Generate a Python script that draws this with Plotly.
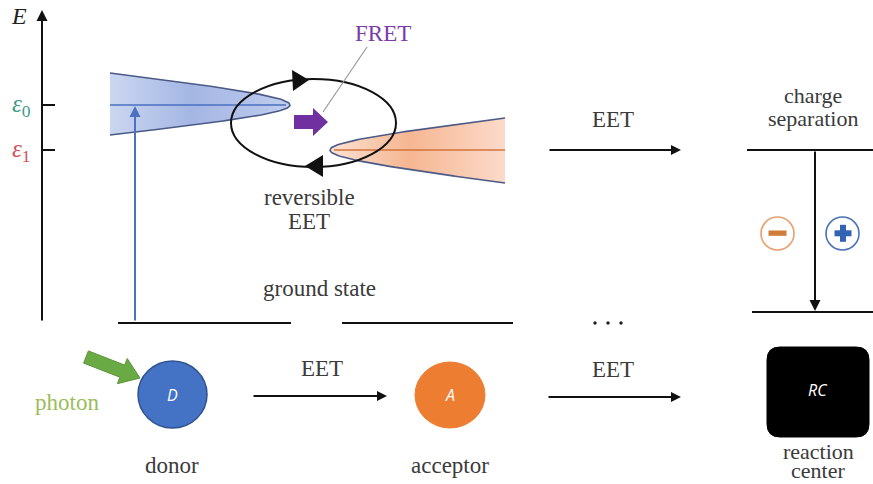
import numpy as np
import plotly.graph_objects as go

# ---------------- data (diagram units = pixel-like coordinates) ----------------
level_names = ["ε0", "ε1"]
level_colors = ["#3f9a86", "#d0505a"]
level_y = [105, 150]          # excited-state energies on the E axis
ground_y = 323                # ground-state level
rc_levels = [150, 312]        # charge separation: upper / lower level

stage_labels = ["donor", "acceptor", "reaction<br>center"]
stage_x = [172, 450, 818]
transfer_labels = ["EET", "EET", "EET"]

SERIF = "Liberation Serif, DejaVu Serif, serif"
TXT = "#3a3a3a"
FS = 23

fig = go.Figure()

# ---------------- broadened excited-state "cones" ----------------
def cone(tip_x, yc, h_top, h_bot, length, direction, b=15.0, n=120):
    dy = np.linspace(-h_top, h_bot, n)
    a_top = length / (np.sqrt(1 + (h_top / b) ** 2) - 1)
    a_bot = length / (np.sqrt(1 + (h_bot / b) ** 2) - 1)
    a = np.where(dy < 0, a_top, a_bot)
    f = a * (np.sqrt(1 + (dy / b) ** 2) - 1)
    return tip_x - direction * f, yc + dy

bx, by = cone(290, level_y[0], 32, 30, 180, +1)
ox, oy = cone(330, level_y[1], 32, 33, 175, -1)

fig.add_trace(go.Scatter(
    x=bx, y=by, mode="none", fill="toself", hoverinfo="skip",
    fillgradient=dict(type="horizontal",
                      colorscale=[[0, "#cbd6f0"], [0.45, "#a4b6e3"],
                                  [0.8, "#b4c3ea"], [1, "#c2cfee"]])))
fig.add_trace(go.Scatter(x=bx, y=by, mode="lines", hoverinfo="skip",
                         line=dict(color="#4b5a86", width=1.6)))
fig.add_trace(go.Scatter(x=[110, 286], y=[level_y[0]] * 2, mode="lines",
                         hoverinfo="skip", line=dict(color="#4a70c2", width=1.4)))

fig.add_trace(go.Scatter(
    x=ox, y=oy, mode="none", fill="toself", hoverinfo="skip",
    fillgradient=dict(type="horizontal",
                      colorscale=[[0, "#fbe2d3"], [0.45, "#f6b692"],
                                  [1, "#fbdaca"]])))
fig.add_trace(go.Scatter(x=ox, y=oy, mode="lines", hoverinfo="skip",
                         line=dict(color="#4b5a86", width=1.6)))
fig.add_trace(go.Scatter(x=[334, 505], y=[level_y[1]] * 2, mode="lines",
                         hoverinfo="skip", line=dict(color="#d2743a", width=1.4)))

# ground state dots
fig.add_trace(go.Scatter(x=[595, 608, 621], y=[ground_y] * 3, mode="markers",
                         hoverinfo="skip", marker=dict(color="#222", size=3.5)))

shapes = []
ann = []

def line(x0, y0, x1, y1, color="#111", width=2):
    shapes.append(dict(type="line", x0=x0, y0=y0, x1=x1, y1=y1,
                       line=dict(color=color, width=width)))

def arrow(x0, y0, x1, y1, color="#111", width=2, head=2, size=1.0):
    ann.append(dict(x=x1, y=y1, ax=x0, ay=y0, xref="x", yref="y",
                    axref="x", ayref="y", text="", showarrow=True,
                    arrowhead=head, arrowsize=size, arrowwidth=width,
                    arrowcolor=color))

def text(x, y, s, size=FS, color=TXT, family=SERIF):
    ann.append(dict(x=x, y=y, xref="x", yref="y", text=s, showarrow=False,
                    font=dict(family=family, size=size, color=color)))

def poly(pts, fill, lc=None, lw=0):
    p = "M " + " L ".join(f"{x:.1f},{y:.1f}" for x, y in pts) + " Z"
    shapes.append(dict(type="path", path=p, fillcolor=fill,
                       line=dict(color=lc or fill, width=lw)))

def block_arrow(S, T, shaft, head_w, head_l, fill, lc=None):
    S = np.array(S, float); T = np.array(T, float)
    u = (T - S) / np.linalg.norm(T - S)
    nrm = np.array([-u[1], u[0]])
    H = T - u * head_l
    pts = [S + nrm * shaft, H + nrm * shaft, H + nrm * head_w, T,
           H - nrm * head_w, H - nrm * shaft, S - nrm * shaft]
    poly(pts, fill, lc, 1 if lc else 0)

# ---------------- energy axis ----------------
arrow(42, 322, 42, 10, width=2, head=2, size=1.1)
text(19, 16, "<i>E</i>", size=24, color="#222")
for name, yv, col in zip(level_names, level_y, level_colors):
    line(42, yv, 55, yv, width=2)
    text(21, yv, f"<i>{name[0]}</i><sub>{name[1]}</sub>", size=25, color=col)

# photon excitation arrow
arrow(135, 322, 135, 106, color="#4a72c0", width=2, head=2, size=1.1)

# ground states
line(118, ground_y, 291, ground_y)
line(342, ground_y, 513, ground_y)
text(319, 288, "ground state")

# reversible EET ellipse
shapes.append(dict(type="circle", x0=231, x1=396, y0=79, y1=167,
                   line=dict(color="#111", width=2)))
poly([(309, 80), (292, 70), (293, 91)], "#111")
poly([(305, 166), (323, 155), (323, 177)], "#111")
text(309, 197, "reversible")
text(309, 221, "EET")

# FRET
block_arrow((294, 122), (328, 122), 7, 14, 15, "#7030a0")
line(367, 47, 323, 112, color="#9a9a9a", width=1.2)
text(383, 33, "FRET", color="#7b3aa8")

# upper EET arrow
arrow(548, level_y[1], 681, level_y[1])
text(613, 119, transfer_labels[0])

# charge separation
text(813, 95, "charge", size=22)
text(813, 118, "separation", size=22)
line(747, rc_levels[0], 873, rc_levels[0])
line(752, rc_levels[1], 873, rc_levels[1])
arrow(815, rc_levels[0], 815, rc_levels[1] - 1, size=1.1)
shapes.append(dict(type="circle", x0=761, x1=794, y0=217, y1=250,
                   line=dict(color="#e8a070", width=1.6)))
shapes.append(dict(type="rect", x0=768.5, x1=786.5, y0=230.5, y1=235.8,
                   fillcolor="#cf7d37", line=dict(width=0)))
shapes.append(dict(type="circle", x0=826, x1=859, y0=217, y1=250,
                   line=dict(color="#4a72b8", width=1.6)))
shapes.append(dict(type="rect", x0=834.5, x1=851.5, y0=230.3, y1=236.3,
                   fillcolor="#3563b4", line=dict(width=0)))
shapes.append(dict(type="rect", x0=840, x1=846, y0=224.8, y1=241.8,
                   fillcolor="#3563b4", line=dict(width=0)))

# ---------------- bottom row ----------------
block_arrow((86, 357), (140, 378), 6.5, 13.5, 19, "#6aaa45", "#5a9438")
text(67, 402, "photon", color="#9cbc5c")

shapes.append(dict(type="circle", x0=138, x1=207, y0=361, y1=428,
                   fillcolor="#4472c4", line=dict(color="#2f528f", width=1.5)))
text(172, 395, "<i>D</i>", size=16, color="white", family="Open Sans")

arrow(252, 396, 387, 396)
text(322, 368, transfer_labels[1])

shapes.append(dict(type="circle", x0=415, x1=485, y0=362, y1=428,
                   fillcolor="#ed7d31", line=dict(color="#ed7d31", width=1)))
text(450, 395, "<i>A</i>", size=16, color="white", family="Open Sans")

arrow(547, 397, 681, 397)
text(613, 369, transfer_labels[2])

x0, x1, y0, y1, r = 767, 869, 347, 437, 13
shapes.append(dict(type="path", fillcolor="#000", line=dict(color="#000", width=1),
                   path=(f"M {x0+r},{y0} L {x1-r},{y0} Q {x1},{y0} {x1},{y0+r} "
                         f"L {x1},{y1-r} Q {x1},{y1} {x1-r},{y1} L {x0+r},{y1} "
                         f"Q {x0},{y1} {x0},{y1-r} L {x0},{y0+r} Q {x0},{y0} {x0+r},{y0} Z")))
text(818, 390, "<i>RC</i>", size=16, color="white", family="Open Sans")

for lab, xv in zip(stage_labels, stage_x):
    if "<br>" in lab:
        a, b2 = lab.split("<br>")
        text(xv, 451, a, size=22)
        text(xv, 470, b2, size=22)
    else:
        text(xv, 465, lab)

fig.update_layout(
    width=873, height=484, margin=dict(l=0, r=0, t=0, b=0),
    paper_bgcolor="white", plot_bgcolor="white", showlegend=False,
    xaxis=dict(range=[0, 873], visible=False, fixedrange=True),
    yaxis=dict(range=[484, 0], visible=False, fixedrange=True),
    shapes=shapes, annotations=ann,
)
fig.write_html("out.html", config={"displayModeBar": False},
               post_script="document.body.style.margin='0';document.body.style.overflow='hidden';")
